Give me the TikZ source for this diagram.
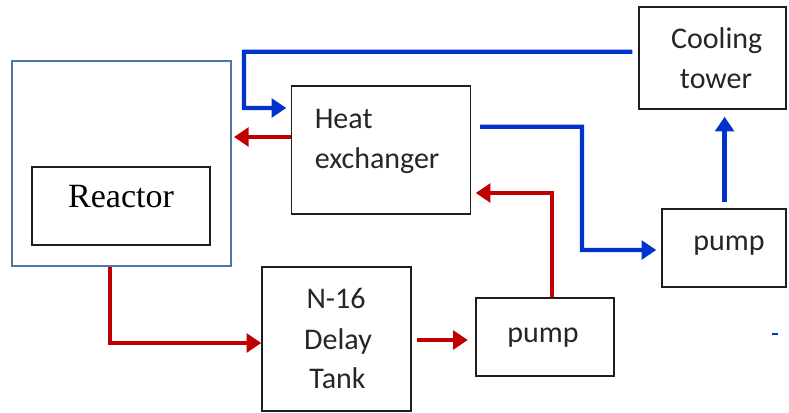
\documentclass[tikz,border=0pt]{standalone}
\usepackage{fontspec}
\setmainfont{Carlito}
\newfontfamily\serifrm{Liberation Serif}
\usetikzlibrary{arrows.meta,calc}
\definecolor{flowblue}{RGB}{0,51,204}
\definecolor{flowred}{RGB}{192,0,0}
\definecolor{vessel}{RGB}{74,118,168}
\definecolor{boxline}{RGB}{30,30,30}
\begin{document}
\begin{tikzpicture}[x=0.75pt,y=-0.75pt,
  box/.style={draw=boxline,line width=1.1pt,inner sep=0pt},
  lbl/.style={font=\fontsize{22.5}{27}\selectfont,inner sep=0pt,anchor=base,text=black!85},
  bluepipe/.style={draw=flowblue,line width=3.2pt,-{Triangle[length=11pt,width=14pt]}},
  redpipe/.style={draw=flowred,line width=3.6pt,-{Triangle[length=11pt,width=14pt]}}]
\useasboundingbox (0,0) rectangle (789,412);
% boxes
\node[box,draw=vessel,line width=2.2pt,minimum width=164.25pt,minimum height=153.75pt] (rout) at (121.5,163.5) {};
\node[box,minimum width=133.5pt,minimum height=58.5pt] (rin) at (121,206) {};
\node[box,minimum width=134.25pt,minimum height=96pt] (hx) at (381,150) {};
\node[box,minimum width=110.25pt,minimum height=76.5pt] (ct) at (712.5,58) {};
\node[box,minimum width=111.75pt,minimum height=108pt] (tank) at (336.5,339) {};
\node[box,minimum width=103.5pt,minimum height=58.5pt] (pumpm) at (545,337) {};
\node[box,minimum width=93pt,minimum height=58.5pt] (pumpr) at (724,248) {};
% labels
\node[font=\serifrm\fontsize{25.5}{30}\selectfont,inner sep=0pt,anchor=base] (treact) at (121,207.7) {Reactor};
\node[lbl] (tcool) at (716.7,48) {Cooling};
\node[lbl] (ttower) at (716,88) {tower};
\node[lbl,anchor=base west] (theat) at (314.5,128) {Heat};
\node[lbl,anchor=base west] (texch) at (314.5,168) {exchanger};
\node[lbl] (tn) at (336,308) {N-16};
\node[lbl] (tdelay) at (338,349) {Delay};
\node[lbl] (ttank) at (337.5,388) {Tank};
\node[lbl] (tpm) at (543,342) {pump};
\node[lbl] (tpr) at (729,250) {pump};
% connectors
\draw[bluepipe] ($(ct.west)+(-6,-6.3)$) -- (244,51.7) |- ($(hx.west)+(-4.5,-42)$);
\draw[redpipe] ($(hx.west)+(0,-13)$) -- ($(rout.east)+(1.5,-26.5)$);
\draw[bluepipe] ($(hx.east)+(9,-23.3)$) -- (582,126.7) |- ($(pumpr.west)+(-5,2)$);
\draw[redpipe] ($(pumpm.north)+(7,0)$) |- ($(hx.east)+(4.5,43)$);
\draw[bluepipe] ($(pumpr.north)+(0.6,-6)$) -- ($(ct.south)+(12.1,7)$);
\draw[redpipe] ($(rout.south)+(-11.5,0)$) |- ($(tank.west)+(0,4)$);
\draw[redpipe] ($(tank.east)+(5,1)$) -- ($(pumpm.west)+(-7.5,3)$);
% small stray mark
\draw[flowblue,line width=0.9pt] (772,334) -- (778,334);
\end{tikzpicture}
\end{document}
